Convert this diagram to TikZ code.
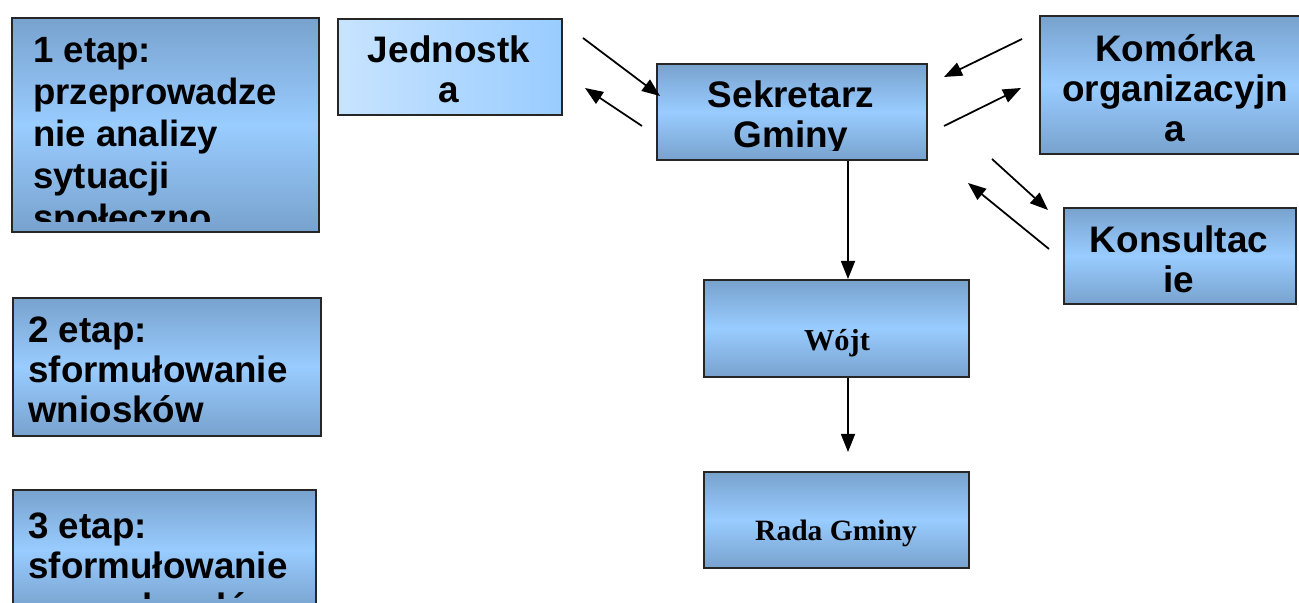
\documentclass[tikz,border=0pt]{standalone}
\usepackage{fontspec}
\setmainfont{Liberation Sans}
\newfontfamily\timesfont{Liberation Serif}
\usetikzlibrary{arrows.meta}
\definecolor{boxdark}{RGB}{120,162,206}
\definecolor{boxlight}{RGB}{153,204,255}
\definecolor{boxpale}{RGB}{200,228,255}
\tikzset{
  box/.style={draw=black!85, line width=1pt, top color=boxdark, bottom color=boxdark,
    middle color=boxlight, anchor=north west, inner sep=0pt},
  etaptxt/.style={font=\fontsize{20.9pt}{22.8pt}\selectfont\bfseries, align=left,
    anchor=base west, inner sep=0pt},
  celltxt/.style={font=\fontsize{21pt}{22.8pt}\selectfont\bfseries, align=center,
    anchor=base, inner sep=0pt},
  wojttxt/.style={font=\fontsize{16.8pt}{20pt}\selectfont\timesfont\bfseries,
    anchor=base, inner sep=0pt},
  arr/.style={-{Triangle[length=3.6mm,width=2.8mm]}, line width=1pt}
}
\begin{document}
\begin{tikzpicture}[x=0.2mm, y=-0.2mm]
	\useasboundingbox (0,0) rectangle (1299,603);
	% etapy (base = last line)
	\node[box, minimum width=61.4mm, minimum height=42.8mm] (etap1) at (11,17) {};
	\node[box, minimum width=61.6mm, minimum height=27.6mm] (etap2) at (12,297) {};
	\node[box, minimum width=60.6mm, minimum height=24mm] (etap3) at (12,489) {};
	\coordinate (etap3cut) at (315,598);
	\begin{scope}
	\clip (etap1.north west) rectangle ([yshift=2.2mm]etap1.south east);
	\node[etaptxt, font=\fontsize{20.8pt}{23.9pt}\selectfont\bfseries] (etap1txt) at (33,231)
		{1 etap:\\przeprowadze\\nie analizy\\sytuacji\\społeczno};
	\end{scope}
	\begin{scope}
	\clip (etap2.north west) rectangle ([yshift=2mm]etap2.south east);
	\node[etaptxt] (etap2txt) at (28,423) {2 etap:\\sformułowanie\\wniosków};
	\end{scope}
	\begin{scope}
	\clip (etap3.north west) rectangle (etap3cut);
	\node[etaptxt] (etap3txt) at (28,619) {3 etap:\\sformułowanie\\nowych celów};
	\end{scope}
	% schemat
	\node[box, left color=boxpale, right color=boxlight, minimum width=44.8mm, minimum height=19.2mm] (jednostka) at (337,18) {};
	\node[box, minimum width=54mm, minimum height=19.2mm] (sekretarz) at (656,63) {};
	\node[box, minimum width=54.4mm, minimum height=27.6mm] (komorka) at (1039,15) {};
	\node[box, minimum width=46.4mm, minimum height=19.2mm] (konsultacje) at (1063,207) {};
	\node[box, minimum width=53mm, minimum height=19.4mm] (wojt) at (703,279) {};
	\node[box, minimum width=53mm, minimum height=19.2mm] (rada) at (703,471) {};
	\begin{scope}
	\clip (jednostka.north west) rectangle ([yshift=1.8mm]jednostka.south east);
	\node[celltxt] (jednostkatxt) at (449,103) {Jednostk\\a};
	\end{scope}
	\begin{scope}
	\clip (sekretarz.north west) rectangle ([yshift=2mm]sekretarz.south east);
	\node[celltxt] (sekretarztxt) at (791,148) {Sekretarz\\Gminy};
	\end{scope}
	\begin{scope}
	\clip (komorka.north west) rectangle ([yshift=2.2mm]komorka.south east);
	\node[celltxt] (komorkatxt) at (1175,142) {Komórka\\organizacyjn\\a};
	\end{scope}
	\begin{scope}
	\clip (konsultacje.north west) rectangle ([yshift=1.8mm]konsultacje.south east);
	\node[celltxt] (konsultacjetxt) at (1179,293) {Konsultac\\ie};
	\end{scope}
	\node[wojttxt, font=\fontsize{17.3pt}{20pt}\selectfont\timesfont\bfseries] (wojttxt) at (837,351) {Wójt};
	\node[wojttxt] (radatxt) at (836,540) {Rada Gminy};
	% strzalki
	\coordinate (pion) at (848,0);
	\coordinate (radain) at (848,452);
	\coordinate (j1) at (583,38);   \coordinate (j2) at (660,96);
	\coordinate (j3) at (642,126);  \coordinate (j4) at (585,88);
	\coordinate (k1) at (1022,39);  \coordinate (k2) at (944,77);
	\coordinate (k3) at (944,126);  \coordinate (k4) at (1021,88);
	\coordinate (s1) at (992,159);  \coordinate (s2) at (1048,210);
	\coordinate (s3) at (1049,249); \coordinate (s4) at (968,183);
	\draw[arr] (j1) -- (j2);
	\draw[arr] (j3) -- (j4);
	\draw[arr] (k1) -- (k2);
	\draw[arr] (k3) -- (k4);
	\draw[arr] (s1) -- (s2);
	\draw[arr] (s3) -- (s4);
	\draw[arr] (sekretarz.south -| pion) -- (wojt.north -| pion);
	\draw[arr] (wojt.south -| pion) -- (radain);
\end{tikzpicture}
\end{document}
